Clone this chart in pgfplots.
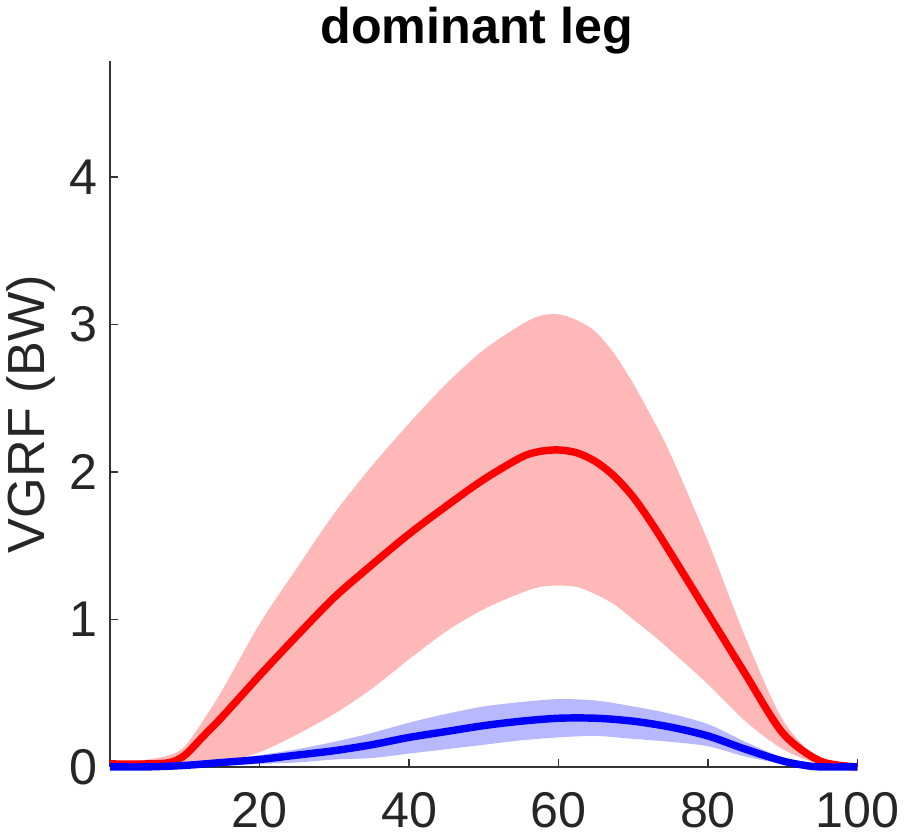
\documentclass[border=0pt]{standalone}
\usepackage{pgfplots}
\pgfplotsset{compat=1.18}
\usepackage{pgfplotstable}
\usepgfplotslibrary{fillbetween}
\usepackage{fontspec}
\setmainfont{Liberation Sans}
\definecolor{mred}{rgb}{1,0,0}
\definecolor{mblue}{rgb}{0,0,1}

\pgfplotstableread{
x     m     u     l
0     0.02  0.03  0.00
5     0.02  0.05  0.00
8     0.03  0.08  0.00
10    0.08  0.14  0.00
12.5  0.21  0.32  0.01
15    0.34  0.52  0.03
20    0.62  0.97  0.10
25    0.89  1.35  0.22
30    1.15  1.72  0.36
35    1.37  2.04  0.53
40    1.58  2.33  0.73
45    1.77  2.60  0.92
50    1.95  2.83  1.07
55    2.10  3.00  1.18
57.5  2.14  3.06  1.22
60    2.15  3.07  1.23
62.5  2.13  3.03  1.22
65    2.07  2.95  1.17
67.5  1.97  2.80  1.10
70    1.83  2.60  1.00
72.5  1.65  2.37  0.90
75    1.45  2.12  0.79
80    1.04  1.53  0.56
85    0.63  0.88  0.31
90    0.23  0.32  0.12
95    0.04  0.05  0.02
100   0.00  0.01  0.00
}\redtab

\pgfplotstableread{
x     m     u     l
0     0.00  0.00  0.00
5     0.00  0.01  0.00
10    0.01  0.02  0.00
15    0.03  0.05  0.01
20    0.05  0.08  0.02
25    0.08  0.12  0.03
30    0.11  0.17  0.05
35    0.15  0.23  0.06
40    0.20  0.30  0.09
45    0.24  0.36  0.12
50    0.28  0.41  0.15
55    0.31  0.44  0.18
60    0.33  0.46  0.20
65    0.33  0.45  0.21
70    0.31  0.41  0.19
75    0.27  0.36  0.17
80    0.21  0.29  0.14
85    0.12  0.17  0.07
90    0.04  0.06  0.02
93    0.01  0.01  0.00
95    0.00  0.00  0.00
100   0.00  0.00  0.00
}\bluetab

\begin{document}
\begin{tikzpicture}
\begin{axis}[
  scale only axis, width=372pt, height=351.5pt,
  xmin=0, xmax=100, ymin=0, ymax=4.79,
  axis x line*=bottom, axis y line*=left,
  axis line style={line width=0.8pt, black!80},
  xtick={20,40,60,80,100}, ytick={0,1,2,3,4},
  tick align=inside, major tick length=4pt,
  tick style={line width=0.8pt, black!80},
  /pgf/number format/assume math mode=true,
  ticklabel style={font=\fontsize{25}{30}\selectfont, text=black!85},
  xticklabel style={yshift=-9pt},
  yticklabel style={xshift=-3pt},
  ylabel={VGRF (BW)},
  ylabel style={font=\fontsize{26}{31}\selectfont, text=black!85},
  title={dominant leg},
  title style={font=\bfseries\fontsize{25}{30}\selectfont, yshift=-6pt, xshift=-3.5pt},
  clip=false,
]
\addplot[draw=none, name path=ru, smooth] table[x=x, y=u]{\redtab};
\addplot[draw=none, name path=rl, smooth] table[x=x, y=l]{\redtab};
\addplot[fill=mred, fill opacity=0.28, draw=none] fill between[of=ru and rl];
\addplot[draw=none, name path=bu, smooth] table[x=x, y=u]{\bluetab};
\addplot[draw=none, name path=bl, smooth] table[x=x, y=l]{\bluetab};
\addplot[fill=mblue, fill opacity=0.28, draw=none] fill between[of=bu and bl];
\addplot[mred, line width=3.7pt, smooth] table[x=x, y=m]{\redtab};
\addplot[mblue, line width=3.7pt, smooth] table[x=x, y=m]{\bluetab};
\end{axis}
\end{tikzpicture}
\end{document}
